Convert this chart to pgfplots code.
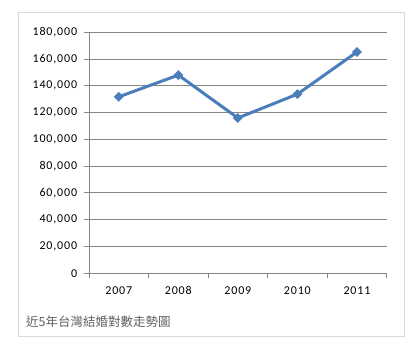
\documentclass[border=0pt]{standalone}
\usepackage{pgfplots}
\pgfplotsset{compat=1.18}
\usepackage{fontspec}
\setmainfont{Carlito}
\newfontfamily\cjk{Noto Sans CJK TC}
\newfontfamily\tickfont[LetterSpace=7]{Carlito}
\definecolor{serblue}{HTML}{4A7EBB}
\definecolor{gridgray}{HTML}{868686}
\definecolor{framegray}{HTML}{D9D9D9}
\definecolor{capgray}{HTML}{606060}
\begin{document}
\begin{tikzpicture}[x=1pt,y=1pt]
\path[fill=white] (0,0) rectangle (420,351);
\draw[framegray, line width=1pt] (18.3,15) rectangle (404,338.3);
\begin{axis}[
  at={(89pt,77.7pt)}, anchor=south west,
  scale only axis, width=297.7pt, height=241pt,
  xmin=-0.5, xmax=4.5, ymin=0, ymax=180000,
  axis x line*=bottom, axis y line*=left,
  axis line style={gridgray, line width=1pt, -},
  ymajorgrids, grid style={gridgray, line width=1pt},
  ytick={0,20000,...,180000},
  scaled y ticks=false,
  yticklabel style={xshift=-3.3pt},
  /pgf/number format/.cd, fixed, 1000 sep={,}, assume math mode=true,
  /pgfplots/.cd,
  tick label style={font=\tickfont\fontsize{12}{14}\selectfont, text=black},
  tick style={gridgray, line width=1pt},
  tick align=outside, major tick length=5pt,
  xtick={-0.5,0.5,...,4.5},
  xticklabels={,,,,,},
  extra x ticks={0,1,2,3,4},
  extra x tick labels={2007,2008,2009,2010,2011},
  extra x tick style={major tick length=0pt, grid=none},
  xticklabel style={yshift=-9.5pt},
  clip=false,
]
\addplot[serblue, line width=3pt, mark=square*, mark size=3.2pt,
  mark options={rotate=45, solid, line width=0.5pt, fill=serblue}]
  coordinates {(0,131800)(1,148050)(2,116000)(3,133800)(4,165300)};
\end{axis}
\node[anchor=west, text=capgray, font=\cjk\fontsize{12.5}{14}\selectfont, inner sep=0] at (26,29.3) {近5年台灣結婚對數走勢圖};
\end{tikzpicture}
\end{document}
